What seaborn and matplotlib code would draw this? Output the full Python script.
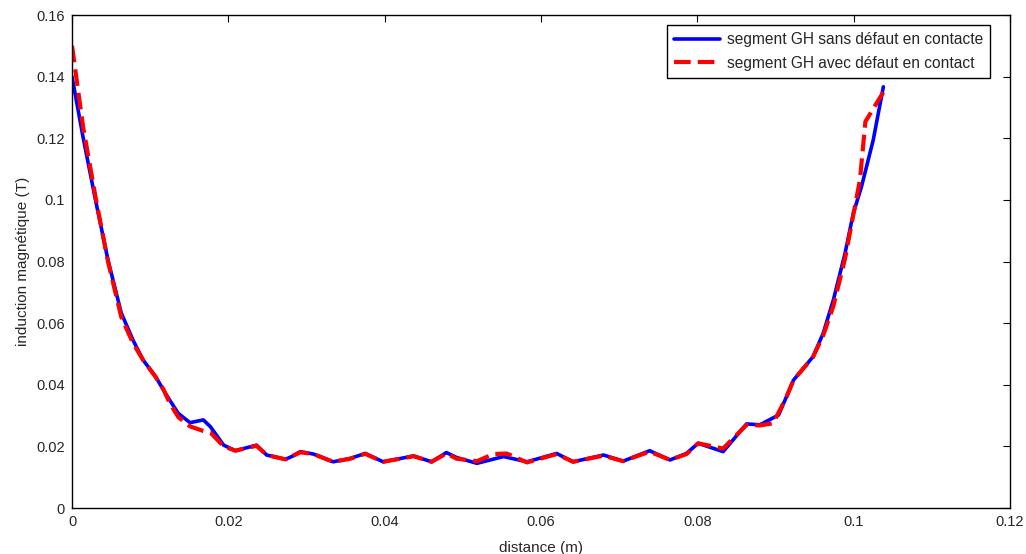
import matplotlib
matplotlib.use("Agg")
import matplotlib.pyplot as plt
import seaborn as sns
import pandas as pd

# Magnetic induction along segment GH, intact contact
dist_sans = [0, 0.0014, 0.003, 0.0046, 0.0063, 0.0078, 0.0091, 0.0107, 0.0117, 0.0125,
             0.0136, 0.0151, 0.0168, 0.0177, 0.0194, 0.0209, 0.0236, 0.0249, 0.0273, 0.0281,
             0.0292, 0.0309, 0.0334, 0.0356, 0.0375, 0.0398, 0.0437, 0.046, 0.0479, 0.0492,
             0.0518, 0.0552, 0.0582, 0.062, 0.0641, 0.068, 0.0705, 0.0739, 0.0765, 0.0786,
             0.0801, 0.0833, 0.0863, 0.088, 0.0904, 0.0914, 0.0923, 0.0948, 0.0961, 0.0974,
             0.0989, 0.09995, 0.101, 0.1025, 0.1038]
b_sans = [0.140, 0.1205, 0.100, 0.0805, 0.0633, 0.0545, 0.048, 0.0426, 0.0383, 0.035,
          0.0307, 0.0277, 0.0286, 0.0264, 0.0204, 0.0186, 0.0204, 0.0172, 0.0158, 0.0167,
          0.0183, 0.0175, 0.015, 0.0161, 0.0177, 0.015, 0.0169, 0.015, 0.018, 0.0164,
          0.0145, 0.0167, 0.015, 0.0177, 0.015, 0.0172, 0.0152, 0.0186, 0.0156, 0.0177,
          0.021, 0.0183, 0.0273, 0.027, 0.0302, 0.0361, 0.0415, 0.0491, 0.0567, 0.0675,
          0.0827, 0.0956, 0.1043, 0.1194, 0.1367]

# Magnetic induction along segment GH, defective contact
dist_avec = [0, 0.0014, 0.003, 0.0046, 0.0063, 0.0078, 0.0091, 0.0107, 0.0117, 0.0125,
             0.0136, 0.0151, 0.0168, 0.0177, 0.0194, 0.0209, 0.0236, 0.0249, 0.0273, 0.0281,
             0.0292, 0.0309, 0.0334, 0.0356, 0.0375, 0.0398, 0.0437, 0.046, 0.0479, 0.0492,
             0.0518, 0.0539, 0.0556, 0.0582, 0.062, 0.0641, 0.068, 0.0705, 0.0739, 0.0765,
             0.0786, 0.0801, 0.0833, 0.0863, 0.088, 0.0897, 0.0914, 0.0923, 0.0948, 0.0961,
             0.0974, 0.0989, 0.1008, 0.1015, 0.1038]
b_avec = [0.150, 0.124, 0.101, 0.080, 0.062, 0.0535, 0.048, 0.0425, 0.0385, 0.034,
          0.0295, 0.0265, 0.025, 0.0245, 0.020, 0.0186, 0.0202, 0.0172, 0.0158, 0.0167,
          0.0181, 0.0175, 0.015, 0.016, 0.0176, 0.015, 0.0168, 0.015, 0.0177, 0.016,
          0.0152, 0.0175, 0.0177, 0.0148, 0.0175, 0.015, 0.017, 0.0152, 0.0183, 0.0156,
          0.0175, 0.021, 0.0193, 0.027, 0.0268, 0.0275, 0.036, 0.0415, 0.049, 0.056,
          0.0655, 0.081, 0.1064, 0.1254, 0.135]

label_sans = "segment GH sans défaut en contacte"
label_avec = "segment GH avec défaut en contact"

x_ticks = [0, 0.02, 0.04, 0.06, 0.08, 0.1, 0.12]
x_tick_labels = ["0", "0.02", "0.04", "0.06", "0.08", "0.1", "0.12"]
y_ticks = [0, 0.02, 0.04, 0.06, 0.08, 0.1, 0.12, 0.14, 0.16]
y_tick_labels = ["0", "0.02", "0.04", "0.06", "0.08", "0.1", "0.12", "0.14", "0.16"]

sns.set_style("white")
plt.rcParams["font.family"] = ["Liberation Sans", "DejaVu Sans"]

df_sans = pd.DataFrame({"distance": dist_sans, "B": b_sans})
df_avec = pd.DataFrame({"distance": dist_avec, "B": b_avec})

fig = plt.figure(figsize=(10.26, 5.54), dpi=100)
ax = fig.add_axes([0.0702, 0.083, 0.9142, 0.8899])

sns.lineplot(data=df_sans, x="distance", y="B", ax=ax, color="#0000ff",
             linewidth=2.6, sort=False, label=label_sans)
sns.lineplot(data=df_avec, x="distance", y="B", ax=ax, color="#ff0000",
             linewidth=3.0, sort=False, label=label_avec, dashes=False)
ax.lines[-1].set_dashes([4.0, 1.7])

ax.set_xlim(0, 0.12)
ax.set_ylim(0, 0.16)
ax.set_xticks(x_ticks)
ax.set_xticklabels(x_tick_labels)
ax.set_yticks(y_ticks)
ax.set_yticklabels(y_tick_labels)
ax.tick_params(direction="in", length=5, width=0.8, labelsize=10.5,
               top=True, right=True, color="black", pad=5)
for side in ax.spines.values():
    side.set_visible(True)
    side.set_color("black")
    side.set_linewidth(1.0)

ax.set_xlabel("distance (m)", fontsize=11, labelpad=9)
ax.set_ylabel("induction magnétique (T)", fontsize=11, labelpad=5)

leg = ax.legend(loc="upper right", bbox_to_anchor=(0.9787, 0.9797), fontsize=11.2,
                frameon=True, fancybox=False, framealpha=1, edgecolor="black",
                handlelength=2.95, borderaxespad=0.0, borderpad=0.45,
                labelspacing=0.55, handletextpad=0.45)
leg.get_frame().set_linewidth(1.0)

fig.savefig("out.png", dpi=100, facecolor="white")
